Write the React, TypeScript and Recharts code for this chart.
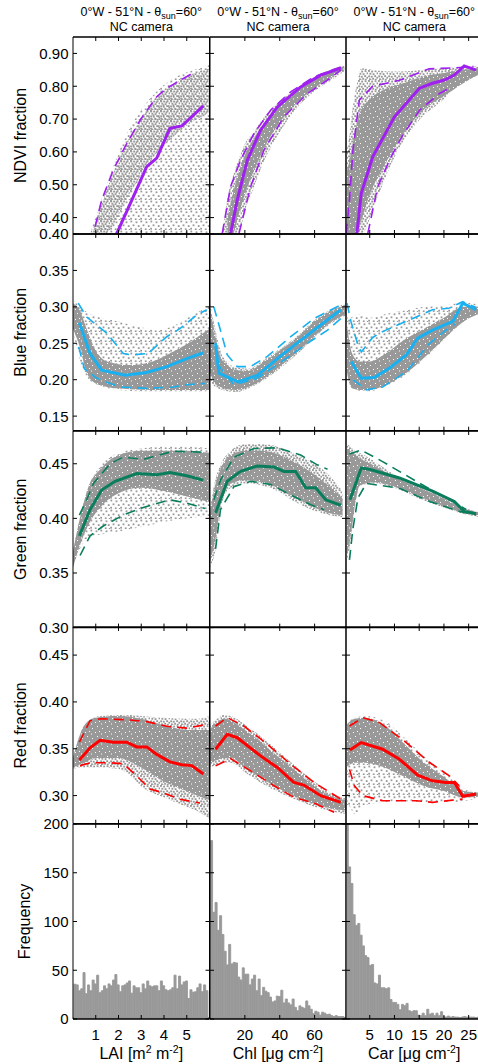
import React from 'react';
import { ComposedChart, Area, Line, Bar, XAxis, YAxis, ReferenceArea } from 'recharts';

const FONT = '"Liberation Sans", Arial, Helvetica, sans-serif';

// ---------- axes ----------
const LAI_DOMAIN: [number, number] = [0, 6];
const CHL_DOMAIN: [number, number] = [0, 78];
const CAR_DOMAIN: [number, number] = [0.2, 27.8];
const LAI_TICKS = [1, 2, 3, 4, 5];
const CHL_TICKS = [20, 40, 60];
const CAR_TICKS = [5, 10, 15, 20, 25];

const NDVI_DOMAIN: [number, number] = [0.35, 0.95];
const BLUE_DOMAIN: [number, number] = [0.13, 0.4];
const GREEN_DOMAIN: [number, number] = [0.3, 0.48];
const RED_DOMAIN: [number, number] = [0.27, 0.48];
const FREQ_DOMAIN: [number, number] = [0, 200];
const NDVI_TICKS = [0.4, 0.5, 0.6, 0.7, 0.8, 0.9];
const BLUE_TICKS = [0.15, 0.2, 0.25, 0.3, 0.35, 0.4];
const GREEN_TICKS = [0.3, 0.35, 0.4, 0.45];
const RED_TICKS = [0.3, 0.35, 0.4, 0.45];
const FREQ_TICKS = [0, 50, 100, 150, 200];

type Pt = [number, number];
type Tri = [number, number, number];

// ---------- NDVI ----------
const NDVI_LAI_MED: Pt[] = [[1.92, 0.351], [2.65, 0.463], [3.24, 0.555], [3.68, 0.581], [4.26, 0.672], [4.78, 0.679], [5.73, 0.74]];
const NDVI_LAI_UP: Pt[] = [[0.97, 0.372], [1.26, 0.453], [1.77, 0.545], [2.29, 0.616], [2.95, 0.697], [3.68, 0.768], [4.12, 0.794], [5.29, 0.841]];
const NDVI_LAI_LO: Pt[] = [];
const NDVI_LAI_CLOUD: Tri[] = [[0.75, 0.35, 0.351], [1.19, 0.35, 0.443], [1.77, 0.35, 0.555], [2.36, 0.35, 0.656], [3.09, 0.35, 0.737], [3.82, 0.35, 0.794], [4.7, 0.35, 0.834], [5.58, 0.35, 0.855], [6.0, 0.35, 0.865]];
const NDVI_LAI_CORE: Tri[] = [[0.85, 0.35, 0.36], [1.3, 0.35, 0.45], [1.8, 0.38, 0.54], [2.3, 0.45, 0.62], [3.0, 0.53, 0.7], [3.7, 0.6, 0.77], [4.3, 0.64, 0.8], [5.0, 0.68, 0.83], [6.0, 0.72, 0.855]];

const NDVI_CHL_MED: Pt[] = [[11.8, 0.351], [15.6, 0.453], [21.4, 0.575], [29, 0.666], [38.6, 0.737], [52, 0.798], [63.5, 0.834], [75, 0.855]];
const NDVI_CHL_UP: Pt[] = [[7.0, 0.351], [11.8, 0.494], [17.5, 0.575], [25.2, 0.656], [34.8, 0.727], [46.3, 0.783], [59.7, 0.829], [75, 0.859]];
const NDVI_CHL_LO: Pt[] = [[16.6, 0.351], [23.3, 0.494], [30.9, 0.605], [42.4, 0.707], [55.9, 0.778], [67.4, 0.819], [75, 0.849]];
const NDVI_CHL_CLOUD: Tri[] = [[7, 0.35, 0.351], [10, 0.35, 0.46], [14, 0.35, 0.54], [17, 0.36, 0.585], [20, 0.42, 0.625], [25, 0.49, 0.66], [30, 0.56, 0.7], [40, 0.66, 0.755], [50, 0.735, 0.795], [60, 0.785, 0.83], [70, 0.82, 0.852], [77, 0.845, 0.862]];
const NDVI_CHL_CORE: Tri[] = [[10, 0.35, 0.4], [13, 0.35, 0.47], [16, 0.4, 0.53], [20, 0.47, 0.59], [25, 0.54, 0.64], [30, 0.6, 0.68], [40, 0.69, 0.745], [50, 0.75, 0.79], [60, 0.795, 0.825], [70, 0.83, 0.85], [77, 0.85, 0.86]];

const NDVI_CAR_MED: Pt[] = [[2.4, 0.351], [3.27, 0.473], [5.6, 0.585], [10.0, 0.707], [15.05, 0.794], [17.7, 0.809], [20.1, 0.819], [22.1, 0.834], [24.1, 0.862], [26.5, 0.849]];
const NDVI_CAR_UP: Pt[] = [[0.24, 0.351], [0.9, 0.453], [1.6, 0.605], [2.9, 0.758], [5.6, 0.8], [11, 0.818], [17, 0.853], [22, 0.856], [26, 0.86]];
const NDVI_CAR_LO: Pt[] = [[4.6, 0.351], [6.6, 0.494], [9.3, 0.585], [11.7, 0.651], [15.05, 0.727], [19.1, 0.778], [21.1, 0.794]];
const NDVI_CAR_CLOUD: Tri[] = [[0, 0.35, 0.6], [0.6, 0.35, 0.62], [1.6, 0.35, 0.74], [2.6, 0.35, 0.82], [3.3, 0.35, 0.855], [6.3, 0.453, 0.848], [9.7, 0.575, 0.845], [15, 0.697, 0.849], [19.8, 0.758, 0.855], [23.1, 0.809, 0.858], [26.5, 0.844, 0.86], [27.8, 0.845, 0.855]];
const NDVI_CAR_CORE: Tri[] = [[0, 0.35, 0.52], [1, 0.35, 0.58], [2, 0.35, 0.66], [3, 0.38, 0.72], [5, 0.47, 0.76], [8, 0.56, 0.79], [12, 0.66, 0.81], [16, 0.73, 0.83], [20, 0.77, 0.84], [24, 0.81, 0.85], [27, 0.835, 0.855]];

// ---------- Blue ----------
const BLUE_LAI_MED: Pt[] = [[0.28, 0.278], [0.75, 0.236], [1.26, 0.213], [2.29, 0.206], [3.24, 0.21], [4.12, 0.218], [5.0, 0.229], [5.73, 0.237]];
const BLUE_LAI_UP: Pt[] = [[0.23, 0.305], [0.6, 0.286], [1.48, 0.264], [2.21, 0.236], [2.6, 0.234], [3.3, 0.236], [4.12, 0.259], [4.7, 0.27], [5.44, 0.289], [5.88, 0.296]];
const BLUE_LAI_LO: Pt[] = [[0.25, 0.245], [0.5, 0.215], [1.0, 0.203], [1.5, 0.196], [2.1, 0.19], [3.3, 0.188], [4.4, 0.19], [5.0, 0.193], [5.8, 0.195]];
const BLUE_LAI_CLOUD: Tri[] = [[0, 0.265, 0.31], [0.5, 0.21, 0.295], [1, 0.194, 0.287], [2, 0.186, 0.28], [3, 0.184, 0.272], [3.7, 0.184, 0.268], [4.5, 0.184, 0.275], [5.3, 0.184, 0.29], [6, 0.184, 0.3]];
const BLUE_LAI_CORE: Tri[] = [[0, 0.27, 0.305], [0.3, 0.245, 0.295], [0.6, 0.21, 0.27], [1, 0.195, 0.24], [1.5, 0.19, 0.225], [2.5, 0.187, 0.22], [3.5, 0.186, 0.225], [4.5, 0.186, 0.24], [5.3, 0.186, 0.255], [6, 0.186, 0.27]];

const BLUE_CHL_MED: Pt[] = [[3.2, 0.25], [5.1, 0.209], [16, 0.197], [27.1, 0.206], [38.6, 0.229], [52, 0.254], [63.5, 0.275], [75, 0.296]];
const BLUE_CHL_UP: Pt[] = [[2.2, 0.3], [6.0, 0.268], [9.9, 0.234], [15.6, 0.218], [23.3, 0.218], [32.9, 0.232], [46.3, 0.259], [59.7, 0.284], [76, 0.304]];
const BLUE_CHL_LO: Pt[] = [[4.1, 0.222], [13.7, 0.193], [27.1, 0.202], [42.4, 0.227], [55.9, 0.25], [67.4, 0.268], [76, 0.286]];
const BLUE_CHL_CLOUD: Tri[] = [[0, 0.2, 0.305], [3, 0.19, 0.27], [6, 0.187, 0.24], [10, 0.184, 0.224], [15, 0.183, 0.217], [22, 0.188, 0.215], [30, 0.198, 0.226], [40, 0.215, 0.242], [50, 0.235, 0.26], [60, 0.258, 0.282], [70, 0.278, 0.297], [78, 0.288, 0.305]];
const BLUE_CHL_CORE: Tri[] = [[0, 0.21, 0.3], [3, 0.195, 0.26], [6, 0.19, 0.232], [10, 0.187, 0.22], [15, 0.186, 0.213], [22, 0.19, 0.212], [30, 0.2, 0.223], [40, 0.218, 0.24], [50, 0.238, 0.258], [60, 0.26, 0.28], [70, 0.28, 0.295], [78, 0.29, 0.302]];

const BLUE_CAR_MED: Pt[] = [[1.25, 0.225], [3.27, 0.202], [5.96, 0.203], [9.0, 0.216], [12.4, 0.234], [14.7, 0.257], [17.7, 0.268], [21.8, 0.28], [23.8, 0.305], [26.5, 0.296]];
const BLUE_CAR_UP: Pt[] = [[0.4, 0.305], [1.2, 0.28], [2.5, 0.25], [3.3, 0.238], [5.6, 0.258], [7.6, 0.266], [13, 0.282], [17.7, 0.296], [21, 0.298], [23.8, 0.307], [26.5, 0.299]];
const BLUE_CAR_LO: Pt[] = [[1.58, 0.2], [4.3, 0.186], [7.6, 0.19], [12.4, 0.211], [17.1, 0.25], [20.4, 0.268], [22.4, 0.277]];
const BLUE_CAR_CLOUD: Tri[] = [[0, 0.23, 0.305], [1, 0.195, 0.285], [2.5, 0.185, 0.29], [5, 0.184, 0.285], [8, 0.19, 0.29], [12, 0.205, 0.295], [16, 0.228, 0.3], [20, 0.255, 0.302], [24, 0.28, 0.306], [27.8, 0.292, 0.302]];
const BLUE_CAR_CORE: Tri[] = [[0, 0.23, 0.3], [0.7, 0.2, 0.26], [1.5, 0.188, 0.235], [3, 0.186, 0.225], [5, 0.186, 0.225], [8, 0.192, 0.235], [12, 0.207, 0.255], [16, 0.23, 0.27], [20, 0.256, 0.285], [24, 0.28, 0.3], [27.8, 0.292, 0.3]];

// ---------- Green ----------
const GREEN_LAI_MED: Pt[] = [[0.28, 0.384], [0.75, 0.408], [1.26, 0.426], [1.85, 0.434], [2.8, 0.441], [3.68, 0.44], [4.26, 0.442], [5.0, 0.439], [5.73, 0.435]];
const GREEN_LAI_UP: Pt[] = [[0.28, 0.403], [0.6, 0.417], [0.9, 0.432], [1.63, 0.45], [2.2, 0.456], [3.09, 0.454], [4.41, 0.4615], [5.73, 0.4606]];
const GREEN_LAI_LO: Pt[] = [[0.31, 0.366], [0.75, 0.384], [1.33, 0.393], [2.2, 0.403], [3.09, 0.41], [4.26, 0.417], [5.0, 0.414], [5.8, 0.409]];
const GREEN_LAI_CLOUD: Tri[] = [[0, 0.355, 0.37], [0.3, 0.372, 0.4], [0.7, 0.382, 0.43], [1.2, 0.385, 0.448], [2, 0.388, 0.46], [3, 0.392, 0.464], [4, 0.397, 0.466], [5, 0.4, 0.466], [6, 0.402, 0.464]];
const GREEN_LAI_CORE: Tri[] = [[0, 0.355, 0.37], [0.3, 0.375, 0.4], [0.7, 0.395, 0.43], [1.2, 0.41, 0.445], [2, 0.423, 0.458], [3, 0.428, 0.462], [4, 0.425, 0.462], [5, 0.42, 0.462], [6, 0.415, 0.46]];

const GREEN_CHL_MED: Pt[] = [[3.2, 0.405], [9.9, 0.434], [17.5, 0.443], [27.1, 0.448], [36.7, 0.447], [42.4, 0.443], [49.1, 0.443], [54.9, 0.428], [60.6, 0.428], [66.4, 0.417], [75, 0.412]];
const GREEN_CHL_UP: Pt[] = [[2.2, 0.417], [6.0, 0.435], [13.7, 0.456], [25.2, 0.464], [38.6, 0.4646], [52, 0.458], [61.5, 0.449], [67.4, 0.445]];
const GREEN_CHL_LO: Pt[] = [[3.2, 0.372], [6.0, 0.408], [13.7, 0.429], [23.3, 0.434], [34.8, 0.431], [46.3, 0.4215], [57.8, 0.4124], [65.5, 0.408]];
const GREEN_CHL_CLOUD: Tri[] = [[0, 0.355, 0.41], [3, 0.37, 0.435], [7, 0.415, 0.452], [12, 0.428, 0.462], [20, 0.432, 0.468], [30, 0.43, 0.468], [40, 0.424, 0.465], [50, 0.414, 0.458], [60, 0.407, 0.45], [68, 0.403, 0.44], [76, 0.401, 0.425]];
const GREEN_CHL_CORE: Tri[] = [[0, 0.36, 0.405], [3, 0.38, 0.43], [7, 0.42, 0.448], [12, 0.432, 0.458], [20, 0.435, 0.462], [30, 0.433, 0.462], [40, 0.427, 0.458], [50, 0.418, 0.45], [60, 0.41, 0.44], [68, 0.405, 0.43], [76, 0.403, 0.418]];

const GREEN_CAR_MED: Pt[] = [[1.0, 0.417], [3.27, 0.446], [4.9, 0.445], [11.0, 0.437], [17.7, 0.425], [22.1, 0.4155], [24.1, 0.4064], [26.5, 0.4043]];
const GREEN_CAR_UP: Pt[] = [[0.9, 0.459], [3.27, 0.4625], [7.6, 0.452], [14.4, 0.434], [19.8, 0.42], [22.4, 0.414], [24.5, 0.408]];
const GREEN_CAR_LO: Pt[] = [[0.9, 0.362], [1.58, 0.39], [2.6, 0.4185], [4.3, 0.432], [11.0, 0.4276], [17.1, 0.4155], [23.1, 0.4064], [26.5, 0.4034]];
const GREEN_CAR_CLOUD: Tri[] = [[0, 0.355, 0.47], [1, 0.375, 0.466], [2, 0.41, 0.462], [3, 0.43, 0.46], [6, 0.432, 0.452], [10, 0.428, 0.44], [15, 0.418, 0.43], [20, 0.41, 0.42], [24, 0.404, 0.41], [27.8, 0.401, 0.405]];
const GREEN_CAR_CORE: Tri[] = [[0, 0.36, 0.465], [1, 0.38, 0.462], [2, 0.412, 0.458], [3, 0.43, 0.455], [6, 0.433, 0.448], [10, 0.429, 0.438], [15, 0.42, 0.428], [20, 0.411, 0.418], [24, 0.405, 0.409], [27.8, 0.402, 0.405]];

// ---------- Red ----------
const RED_LAI_MED: Pt[] = [[0.28, 0.338], [0.75, 0.351], [1.19, 0.359], [1.77, 0.357], [2.36, 0.357], [2.8, 0.352], [3.24, 0.352], [3.68, 0.344], [4.26, 0.336], [4.78, 0.333], [5.22, 0.332], [5.73, 0.323]];
const RED_LAI_UP: Pt[] = [[0.28, 0.357], [0.75, 0.38], [1.19, 0.382], [2.36, 0.381], [3.24, 0.379], [4.12, 0.374], [5.0, 0.372], [5.88, 0.376]];
const RED_LAI_LO: Pt[] = [[0.31, 0.332], [0.75, 0.335], [1.63, 0.335], [2.21, 0.334], [2.8, 0.321], [3.38, 0.307], [3.97, 0.303], [4.7, 0.296], [5.58, 0.292]];
const RED_LAI_CLOUD: Tri[] = [[0, 0.328, 0.34], [0.3, 0.33, 0.365], [0.7, 0.33, 0.38], [1.2, 0.33, 0.385], [2, 0.328, 0.386], [2.5, 0.322, 0.386], [3, 0.31, 0.385], [4, 0.298, 0.383], [5, 0.288, 0.382], [5.5, 0.283, 0.382], [6, 0.275, 0.385]];
const RED_LAI_CORE: Tri[] = [[0, 0.33, 0.34], [0.5, 0.335, 0.375], [1, 0.34, 0.383], [2, 0.34, 0.385], [3, 0.33, 0.382], [4, 0.315, 0.375], [5, 0.305, 0.37], [6, 0.295, 0.37]];

const RED_CHL_MED: Pt[] = [[3.2, 0.3495], [9.9, 0.3654], [15.6, 0.3618], [29, 0.3424], [38.6, 0.33], [48.1, 0.314], [53.8, 0.3112], [63.5, 0.2999], [75, 0.2928]];
const RED_CHL_UP: Pt[] = [[3.2, 0.3743], [9.9, 0.3832], [19.5, 0.3743], [32.9, 0.3548], [46.3, 0.3335], [59.7, 0.314], [75, 0.2963]];
const RED_CHL_LO: Pt[] = [[3.2, 0.3317], [11.8, 0.3395], [23.3, 0.3264], [36.7, 0.3105], [48.1, 0.2981], [59.7, 0.292], [71.2, 0.2822]];
const RED_CHL_CLOUD: Tri[] = [[0, 0.33, 0.375], [4, 0.333, 0.382], [8, 0.335, 0.386], [12, 0.335, 0.385], [20, 0.325, 0.376], [30, 0.313, 0.362], [40, 0.303, 0.346], [50, 0.295, 0.33], [60, 0.288, 0.315], [70, 0.283, 0.302], [78, 0.28, 0.297]];
const RED_CHL_CORE: Tri[] = [[0, 0.335, 0.37], [4, 0.338, 0.378], [8, 0.34, 0.382], [12, 0.34, 0.38], [20, 0.33, 0.37], [30, 0.318, 0.356], [40, 0.307, 0.34], [50, 0.298, 0.325], [60, 0.291, 0.31], [70, 0.286, 0.299], [78, 0.284, 0.295]];

const RED_CAR_MED: Pt[] = [[1.0, 0.3488], [3.27, 0.3566], [7.6, 0.3495], [11.0, 0.3388], [14.7, 0.3218], [17.7, 0.3158], [20.4, 0.314], [22.1, 0.314], [23.8, 0.2992], [26.5, 0.3016]];
const RED_CAR_UP: Pt[] = [[0.9, 0.3743], [3.6, 0.3832], [7.0, 0.3779], [12.4, 0.3566], [17.1, 0.3353], [21.1, 0.3211], [23.1, 0.3105]];
const RED_CAR_LO: Pt[] = [[0.9, 0.328], [1.9, 0.3105], [3.6, 0.2999], [7.6, 0.2945], [14.4, 0.2945], [17.7, 0.2928], [23.8, 0.2963]];
const RED_CAR_CLOUD: Tri[] = [[0.2, 0.27, 0.375], [0.6, 0.29, 0.378], [2, 0.28, 0.383], [4, 0.29, 0.385], [8, 0.293, 0.38], [12, 0.294, 0.362], [16, 0.293, 0.342], [20, 0.293, 0.325], [24, 0.294, 0.308], [27.8, 0.298, 0.303]];
const RED_CAR_CORE: Tri[] = [[0.2, 0.33, 0.375], [2, 0.335, 0.382], [4, 0.335, 0.383], [8, 0.33, 0.375], [12, 0.32, 0.355], [16, 0.31, 0.335], [20, 0.305, 0.32], [24, 0.298, 0.305], [27.8, 0.299, 0.303]];

// ---------- Histograms ----------
const LAI_COUNTS = [35.7, 35, 29, 31, 47.6, 26, 35, 29, 40, 36, 45, 27, 29, 34, 31, 36, 34, 40, 45.6, 35, 28, 34, 35, 37, 39, 26.5, 34, 32, 32, 27, 36, 31, 39, 34, 33, 34, 34, 29, 39, 34, 30, 29, 30, 32, 45, 31, 44, 35, 38, 39, 21, 30, 27.5, 28, 32, 36, 28, 35, 29];
const CHL_COUNTS = [183, 109.5, 119.5, 91, 106, 86.7, 69.5, 55.5, 76.5, 56.5, 58, 57.5, 43, 40, 52.5, 46, 46, 35, 41, 45, 29, 41, 24, 32.5, 28.5, 27, 22.5, 17.5, 18.5, 23.5, 23, 29.5, 16.5, 20.5, 16.5, 14.5, 20.5, 12, 8.5, 13.5, 12, 11, 18.5, 13.5, 10, 5.5, 8, 7, 4, 7, 6, 4.5, 5, 3.5, 2.5, 3.5, 2.5, 2.5, 2.5];
const CAR_COUNTS = [204, 156, 139, 107, 96, 98, 86, 75, 65, 63, 55, 56, 37, 36, 45, 32, 32, 31, 32, 20, 17, 17, 15, 9.5, 15, 13.6, 16, 8.5, 7.5, 8.5, 8.5, 4, 3.4, 6, 3.4, 10, 5, 6, 3.4, 6, 3.4, 7.5, 2.5, 2, 3, 2, 2.5, 2, 2, 1.5, 2, 2.5, 2, 2, 2, 2, 1.5, 2];
const LAI_BIN = { start: 0.04, width: 0.1 };
const CHL_BIN = { start: 0.3, width: 1.3 };
const CAR_BIN = { start: 0.25, width: 0.465 };

// ---------- colours ----------
const NDVI_COLOR = '#A020F0';
const BLUE_COLOR = '#18B0F0';
const GREEN_COLOR = '#0A7E5C';
const RED_COLOR = '#FF0000';
const GREY = '#999999';

// ---------- layout ----------
const COL_X = [73, 209.5, 345.5];
const COL_W = [136.5, 136, 136.5];
const ROW_Y = [37, 234, 430.7, 627.3, 824];
const ROW_H = [197, 196.7, 196.6, 196.7, 195];
const TL = 4;

interface ScatterDef {
  kind: 'scatter';
  color: string;
  med: Pt[]; up: Pt[]; lo: Pt[];
  cloud: Tri[]; core: Tri[];
  cloudFill: 'sp' | 'md'; coreFill: 'md' | 'dn';
}
interface HistDef { kind: 'hist'; counts: number[]; bin: { start: number; width: number } }
type Def = ScatterDef | HistDef;

const ROWS = [
  { label: 'NDVI fraction', domain: NDVI_DOMAIN, ticks: NDVI_TICKS, fmt: (v: number) => v.toFixed(2), lx: 26 },
  { label: 'Blue fraction', domain: BLUE_DOMAIN, ticks: BLUE_TICKS, fmt: (v: number) => v.toFixed(2), lx: 26 },
  { label: 'Green fraction', domain: GREEN_DOMAIN, ticks: GREEN_TICKS, fmt: (v: number) => v.toFixed(2), lx: 26 },
  { label: 'Red fraction', domain: RED_DOMAIN, ticks: RED_TICKS, fmt: (v: number) => v.toFixed(2), lx: 26 },
  { label: 'Frequency', domain: FREQ_DOMAIN, ticks: FREQ_TICKS, fmt: (v: number) => String(v), lx: 30 },
];

const COLS = [
  { domain: LAI_DOMAIN, ticks: LAI_TICKS, name: 'LAI', unit: 'm', unitSup: '2', unit2: ' m', unit2Sup: '-2' },
  { domain: CHL_DOMAIN, ticks: CHL_TICKS, name: 'Chl', unit: 'μg cm', unitSup: '-2', unit2: '', unit2Sup: '' },
  { domain: CAR_DOMAIN, ticks: CAR_TICKS, name: 'Car', unit: 'μg cm', unitSup: '-2', unit2: '', unit2Sup: '' },
];

const GRID: Def[][] = [
  [
    { kind: 'scatter', color: NDVI_COLOR, med: NDVI_LAI_MED, up: NDVI_LAI_UP, lo: NDVI_LAI_LO, cloud: NDVI_LAI_CLOUD, core: NDVI_LAI_CORE, cloudFill: 'sp', coreFill: 'md' },
    { kind: 'scatter', color: NDVI_COLOR, med: NDVI_CHL_MED, up: NDVI_CHL_UP, lo: NDVI_CHL_LO, cloud: NDVI_CHL_CLOUD, core: NDVI_CHL_CORE, cloudFill: 'md', coreFill: 'dn' },
    { kind: 'scatter', color: NDVI_COLOR, med: NDVI_CAR_MED, up: NDVI_CAR_UP, lo: NDVI_CAR_LO, cloud: NDVI_CAR_CLOUD, core: NDVI_CAR_CORE, cloudFill: 'md', coreFill: 'dn' },
  ],
  [
    { kind: 'scatter', color: BLUE_COLOR, med: BLUE_LAI_MED, up: BLUE_LAI_UP, lo: BLUE_LAI_LO, cloud: BLUE_LAI_CLOUD, core: BLUE_LAI_CORE, cloudFill: 'sp', coreFill: 'dn' },
    { kind: 'scatter', color: BLUE_COLOR, med: BLUE_CHL_MED, up: BLUE_CHL_UP, lo: BLUE_CHL_LO, cloud: BLUE_CHL_CLOUD, core: BLUE_CHL_CORE, cloudFill: 'md', coreFill: 'dn' },
    { kind: 'scatter', color: BLUE_COLOR, med: BLUE_CAR_MED, up: BLUE_CAR_UP, lo: BLUE_CAR_LO, cloud: BLUE_CAR_CLOUD, core: BLUE_CAR_CORE, cloudFill: 'sp', coreFill: 'dn' },
  ],
  [
    { kind: 'scatter', color: GREEN_COLOR, med: GREEN_LAI_MED, up: GREEN_LAI_UP, lo: GREEN_LAI_LO, cloud: GREEN_LAI_CLOUD, core: GREEN_LAI_CORE, cloudFill: 'sp', coreFill: 'dn' },
    { kind: 'scatter', color: GREEN_COLOR, med: GREEN_CHL_MED, up: GREEN_CHL_UP, lo: GREEN_CHL_LO, cloud: GREEN_CHL_CLOUD, core: GREEN_CHL_CORE, cloudFill: 'md', coreFill: 'dn' },
    { kind: 'scatter', color: GREEN_COLOR, med: GREEN_CAR_MED, up: GREEN_CAR_UP, lo: GREEN_CAR_LO, cloud: GREEN_CAR_CLOUD, core: GREEN_CAR_CORE, cloudFill: 'md', coreFill: 'dn' },
  ],
  [
    { kind: 'scatter', color: RED_COLOR, med: RED_LAI_MED, up: RED_LAI_UP, lo: RED_LAI_LO, cloud: RED_LAI_CLOUD, core: RED_LAI_CORE, cloudFill: 'md', coreFill: 'dn' },
    { kind: 'scatter', color: RED_COLOR, med: RED_CHL_MED, up: RED_CHL_UP, lo: RED_CHL_LO, cloud: RED_CHL_CLOUD, core: RED_CHL_CORE, cloudFill: 'md', coreFill: 'dn' },
    { kind: 'scatter', color: RED_COLOR, med: RED_CAR_MED, up: RED_CAR_UP, lo: RED_CAR_LO, cloud: RED_CAR_CLOUD, core: RED_CAR_CORE, cloudFill: 'sp', coreFill: 'dn' },
  ],
  [
    { kind: 'hist', counts: LAI_COUNTS, bin: LAI_BIN },
    { kind: 'hist', counts: CHL_COUNTS, bin: CHL_BIN },
    { kind: 'hist', counts: CAR_COUNTS, bin: CAR_BIN },
  ],
];

const toLine = (pts: Pt[]) => pts.map(([x, v]) => ({ x, v }));
const toBand = (pts: Tri[]) => pts.map(([x, lo, hi]) => ({ x, band: [lo, hi] }));

function Defs({ id }: { id: string }) {
  const sp: Pt[] = [[0.4, 0.6], [5.6, 1.4], [2.6, 4.4], [7.8, 5.2], [0.2, 7.8], [4.8, 8.4], [8.8, 9.0]];
  const md: Pt[] = [[0, 0], [3.2, 0.6], [6.6, 0.2], [8.6, 2.4], [1.4, 2.8], [4.6, 3.2], [0.2, 5.4], [2.8, 5.8], [6.2, 5.2], [8.4, 6.8], [4.2, 7.8], [1.0, 8.4], [6.8, 8.8], [2.4, 9.6]];
  const dn: Pt[] = [[2, 3], [7, 1], [5, 7], [9, 6], [1, 8.5]];
  return (
    <defs>
      <pattern id={`sp-${id}`} width={10} height={10} patternUnits="userSpaceOnUse">
        {sp.map(([x, y], i) => <rect key={i} x={x} y={y} width={1.8} height={1.8} fill={GREY} />)}
      </pattern>
      <pattern id={`md-${id}`} width={10} height={10} patternUnits="userSpaceOnUse">
        {md.map(([x, y], i) => <rect key={i} x={x} y={y} width={1.9} height={1.9} fill={GREY} />)}
      </pattern>
      <pattern id={`dn-${id}`} width={10} height={10} patternUnits="userSpaceOnUse">
        <rect x={0} y={0} width={10} height={10} fill={GREY} />
        {dn.map(([x, y], i) => <rect key={i} x={x} y={y} width={1} height={1} fill="#ffffff" />)}
      </pattern>
    </defs>
  );
}

function Panel({ r, c }: { r: number; c: number }) {
  const def = GRID[r][c];
  const row = ROWS[r];
  const col = COLS[c];
  const ml = c === 0 ? 73 : 8;
  const mr = 8;
  const mt = r === 0 ? 37 : 12;
  const mb = r === 4 ? 45 : 12;
  const w = COL_W[c];
  const h = ROW_H[r];
  const id = `p${r}${c}`;
  const showX = r === 4;
  const showY = c === 0;

  const series: React.ReactNode[] = [];
  let data: any[] | undefined = undefined;
  if (def.kind === 'hist') {
    data = def.counts.map((n, i) => ({ x: def.bin.start + (i + 0.5) * def.bin.width, n }));
    const bw = (def.bin.width * w) / (col.domain[1] - col.domain[0]);
    series.push(
      <Bar key="bars" dataKey="n" xAxisId="b" yAxisId="l" fill={GREY} stroke={GREY} strokeWidth={0.9}
        barSize={bw} isAnimationActive={false} />
    );
    series.push(
      <ReferenceArea key="strip" xAxisId="b" yAxisId="l" y1={0} y2={1.8} fill="#505050" fillOpacity={1} stroke="none" />
    );
  } else {
    series.push(
      <Area key="cloud" data={toBand(def.cloud)} dataKey="band" xAxisId="b" yAxisId="l" type="monotone"
        fill={`url(#${def.cloudFill}-${id})`} fillOpacity={1} stroke="none" isAnimationActive={false} dot={false} activeDot={false} />
    );
    series.push(
      <Area key="core" data={toBand(def.core)} dataKey="band" xAxisId="b" yAxisId="l" type="monotone"
        fill={`url(#${def.coreFill}-${id})`} fillOpacity={1} stroke="none" isAnimationActive={false} dot={false} activeDot={false} />
    );
    if (def.up.length)
      series.push(
        <Line key="up" data={toLine(def.up)} dataKey="v" xAxisId="b" yAxisId="l" type="linear" stroke={def.color}
          strokeWidth={1.6} strokeDasharray="10 6" dot={false} activeDot={false} isAnimationActive={false} />
      );
    if (def.lo.length)
      series.push(
        <Line key="lo" data={toLine(def.lo)} dataKey="v" xAxisId="b" yAxisId="l" type="linear" stroke={def.color}
          strokeWidth={1.6} strokeDasharray="10 6" dot={false} activeDot={false} isAnimationActive={false} />
      );
    series.push(
      <Line key="med" data={toLine(def.med)} dataKey="v" xAxisId="b" yAxisId="l" type="linear" stroke={def.color}
        strokeWidth={3} dot={false} activeDot={false} isAnimationActive={false} />
    );
  }

  const bottomTick = (p: any) => (
    <g>
      <line x1={p.x} y1={p.y} x2={p.x} y2={p.y - TL} stroke="#000" strokeWidth={1} />
      {showX && (
        <text x={p.x} y={p.y + 21} textAnchor="middle" fontSize={15} fontFamily={FONT} fill="#000">
          {p.payload.value}
        </text>
      )}
    </g>
  );
  const topTick = (p: any) => (
    <line x1={p.x} y1={p.y} x2={p.x} y2={p.y + TL} stroke="#000" strokeWidth={1} />
  );
  const leftTick = (p: any) => (
    <g>
      <line x1={p.x} y1={p.y} x2={p.x + TL} y2={p.y} stroke="#000" strokeWidth={1} />
      {showY && (
        <text x={p.x - 4.5} y={p.y} dy="0.36em" textAnchor="end" fontSize={15} fontFamily={FONT} fill="#000">
          {row.fmt(p.payload.value)}
        </text>
      )}
    </g>
  );
  const rightTick = (p: any) => (
    <line x1={p.x} y1={p.y} x2={p.x - TL} y2={p.y} stroke="#000" strokeWidth={1} />
  );

  const titleLabel = () =>
    r === 0 ? (
      <g>
        <text x={ml + w / 2} y={16} textAnchor="middle" fontSize={12.5} fontFamily={FONT} fill="#000">
          <tspan>0°W - 51°N - θ</tspan>
          <tspan dy={3} fontSize={9}>sun</tspan>
          <tspan dy={-3}>=60°</tspan>
        </text>
        <text x={ml + w / 2} y={31} textAnchor="middle" fontSize={12.5} fontFamily={FONT} fill="#000">
          NC camera
        </text>
      </g>
    ) : null;

  const xLabel = () =>
    showX ? (
      <text x={ml + w / 2} y={mt + h + 39.5} textAnchor="middle" fontSize={16} fontFamily={FONT} fill="#000">
        <tspan>{`${col.name} [${col.unit}`}</tspan>
        <tspan dy={-6} fontSize={10.5}>{col.unitSup}</tspan>
        {col.unit2 ? <tspan dy={6}>{col.unit2}</tspan> : null}
        {col.unit2 ? <tspan dy={-6} fontSize={10.5}>{col.unit2Sup}</tspan> : null}
        <tspan dy={6}>]</tspan>
      </text>
    ) : null;

  const yLabel = () =>
    showY ? (
      <text transform={`translate(${row.lx}, ${mt + h / 2}) rotate(-90)`} textAnchor="middle" fontSize={16}
        fontFamily={FONT} fill="#000">
        {row.label}
      </text>
    ) : null;

  const vLine = { stroke: '#000', strokeWidth: 1 };
  const hLine = { stroke: '#000', strokeWidth: 1.3 };

  return (
    <div style={{ position: 'absolute', left: COL_X[c] - ml, top: ROW_Y[r] - mt }}>
      <ComposedChart width={ml + w + mr} height={mt + h + mb} data={data}
        margin={{ top: 0, right: 0, bottom: 0, left: 0 }}>
        <Defs id={id} />
        <XAxis xAxisId="b" dataKey="x" type="number" domain={col.domain} allowDataOverflow ticks={col.ticks}
          interval={0} orientation="bottom" height={mb} tickSize={0} tickMargin={0} tickLine={false}
          axisLine={hLine} tick={bottomTick} label={xLabel} />
        <XAxis xAxisId="t" dataKey="x" type="number" domain={col.domain} allowDataOverflow ticks={col.ticks}
          interval={0} orientation="top" height={mt} tickSize={0} tickMargin={0} tickLine={false}
          axisLine={hLine} tick={topTick} label={titleLabel} />
        <YAxis yAxisId="l" type="number" domain={row.domain} allowDataOverflow ticks={row.ticks} interval={0}
          orientation="left" width={ml} tickSize={0} tickMargin={0} tickLine={false} axisLine={vLine}
          tick={leftTick} label={yLabel} />
        <YAxis yAxisId="r" type="number" domain={row.domain} allowDataOverflow ticks={row.ticks} interval={0}
          orientation="right" width={mr} tickSize={0} tickMargin={0} tickLine={false} axisLine={vLine}
          tick={rightTick} />
        {series}
      </ComposedChart>
    </div>
  );
}

export default function App() {
  const cells: React.ReactNode[] = [];
  for (let r = 0; r < 5; r++) for (let c = 0; c < 3; c++) cells.push(<Panel key={`${r}-${c}`} r={r} c={c} />);
  return (
    <div style={{ position: 'absolute', left: 0, top: 0, width: 478, height: 1064, overflow: 'hidden', background: '#fff', fontFamily: FONT }}>
      {cells}
    </div>
  );
}
